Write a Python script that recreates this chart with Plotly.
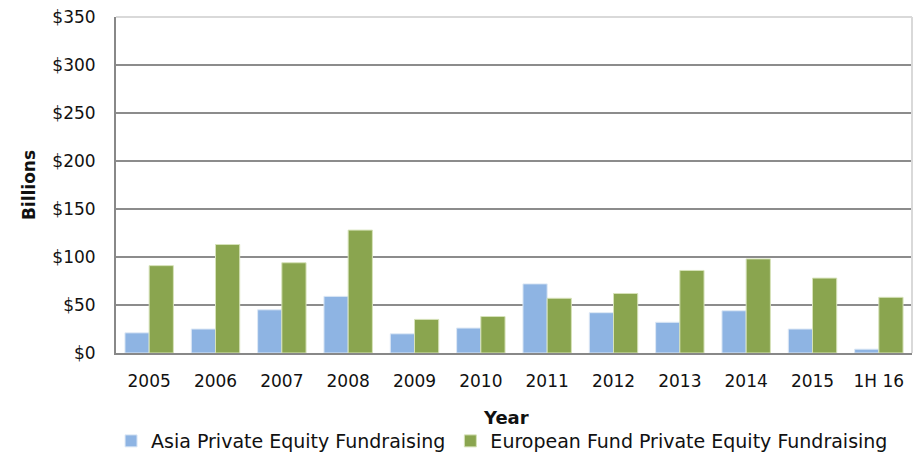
import plotly.graph_objects as go

# data (billions USD)
years = ["2005", "2006", "2007", "2008", "2009", "2010",
         "2011", "2012", "2013", "2014", "2015", "1H 16"]
asia = [21, 25, 45, 59, 20, 26, 72, 42, 32, 44, 25, 4]
europe = [91, 113, 94, 128, 35, 38, 57, 62, 86, 98, 78, 58]
ytick_vals = [0, 50, 100, 150, 200, 250, 300, 350]
ytick_text = ["$0", "$50", "$100", "$150", "$200", "$250", "$300", "$350"]

font_main = "'DejaVu Sans', sans-serif"

fig = go.Figure()
fig.add_trace(go.Bar(x=years, y=asia, name="Asia Private Equity Fundraising",
                     marker=dict(color="#8EB4E3", line=dict(color="#dde8f5", width=1))))
fig.add_trace(go.Bar(x=years, y=europe, name="European Fund Private Equity Fundraising",
                     marker=dict(color="#8AA54F", line=dict(color="#d6e2b9", width=1))))

fig.update_layout(
    width=924, height=455,
    margin=dict(l=116, r=12, t=17, b=102, autoexpand=False),
    paper_bgcolor="white", plot_bgcolor="white",
    font=dict(family=font_main, size=17, color="#111111"),
    barmode="group", bargap=0.27, bargroupgap=0,
    showlegend=True,
    legend=dict(orientation="h", x=0.485, xanchor="center", y=-0.262, yanchor="middle",
                font=dict(size=19), itemwidth=30, traceorder="normal"),
    xaxis=dict(showline=True, linecolor="#888888", linewidth=2, mirror=False,
               showgrid=False, ticks="outside", tickcolor="white", ticklen=12,
               tickfont=dict(size=17), automargin=False),
    yaxis=dict(range=[0, 350], tickvals=ytick_vals, ticktext=ytick_text,
               showline=True, linecolor="#888888", linewidth=2,
               showgrid=True, gridcolor="#8c8c8c", gridwidth=1.5,
               ticks="outside", tickcolor="white", ticklen=15,
               tickfont=dict(size=17), automargin=False,
               title=dict(text="<b>Billions</b>", font=dict(size=17), standoff=12)),
    shapes=[dict(type="line", xref="paper", yref="paper", x0=0, x1=1, y0=1, y1=1,
                 line=dict(color="#d9d9d9", width=2)),
            dict(type="line", xref="paper", yref="paper", x0=1, x1=1, y0=0, y1=1,
                 line=dict(color="#d9d9d9", width=2))],
    annotations=[dict(text="<b>Year</b>", xref="paper", yref="paper", x=0.49, y=-0.193,
                      xanchor="center", yanchor="middle", showarrow=False,
                      font=dict(size=18))],
)

# drop the default 8px page margin so the figure sits at the window's corner
fig.write_html("out.html", config={"displayModeBar": False},
               post_script="document.body.style.margin='0';")
